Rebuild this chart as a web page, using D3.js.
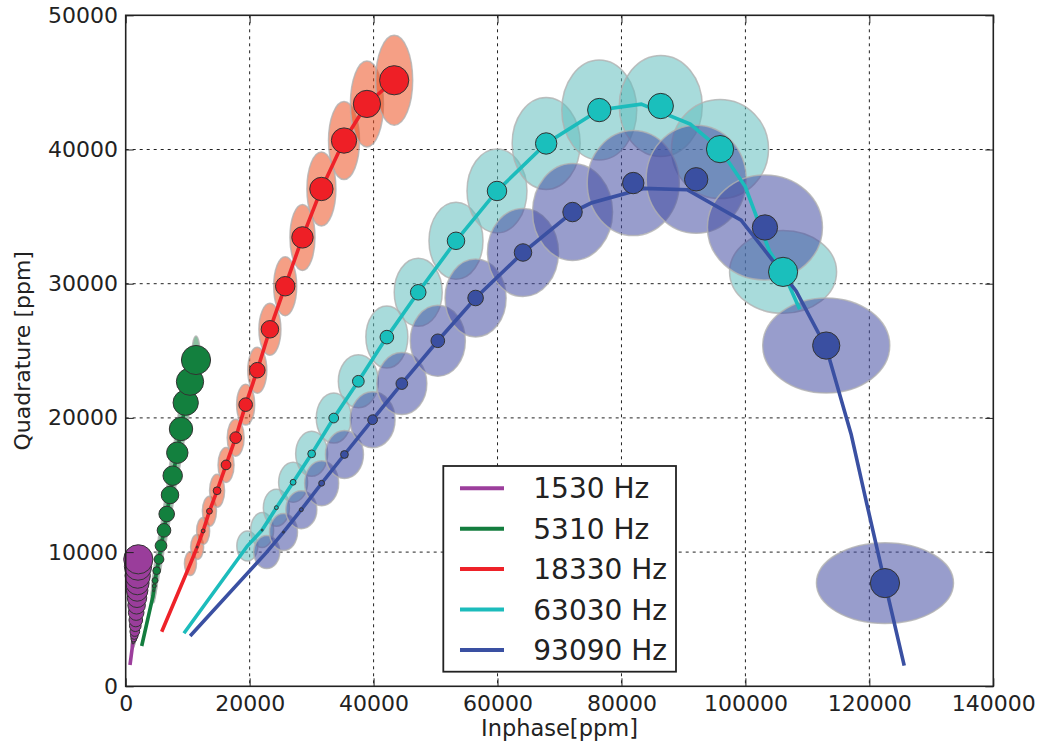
<!DOCTYPE html>
<html>
<head>
<meta charset="utf-8">
<script src="https://cdn.jsdelivr.net/npm/d3@7"></script>
<style>
	body { margin: 0; background: #fff; }
	svg text { font-family: "DejaVu Sans", sans-serif; fill: #222; }
</style>
</head>
<body>
<svg id="chart" width="1041" height="743"></svg>
<script>
// Frequencies (legend labels)
const seriesNames = ["1530 Hz", "5310 Hz", "18330 Hz", "63030 Hz", "93090 Hz"];

// Measured points, index 0 = smallest marker
const purpleX = [1113, 1178, 1243, 1307, 1388, 1468, 1549, 1630, 1694, 1759, 1823, 1856, 1888, 1936, 1985, 2033];
const purpleY = [3077, 3227, 3361, 3532, 3785, 4083, 4516, 4940, 5492, 6036, 6595, 7139, 7690, 8249, 8920, 9463];
const purpleEllW = [500, 520, 560, 600, 640, 700, 740, 790, 840, 900, 950, 1000, 1060, 1120, 1180, 1250];
const purpleEllH = [450, 540, 620, 700, 790, 880, 960, 1050, 1130, 1220, 1300, 1390, 1470, 1560, 1650, 1740];
const purpleCurveX = [694, 1113, 1178, 1243, 1307, 1388, 1468, 1549, 1630, 1694, 1759, 1823, 1856, 1888, 1936, 1985, 2033];
const purpleCurveY = [1590, 3077, 3227, 3361, 3532, 3785, 4083, 4516, 4940, 5492, 6036, 6595, 7139, 7690, 8249, 8920, 9463];

const greenX = [4405, 4518, 4615, 4728, 5002, 5373, 5696, 6180, 6616, 7149, 7584, 8327, 8924, 9682, 10376, 11344];
const greenY = [6729, 7124, 7474, 7884, 8614, 9463, 10477, 11624, 12839, 14255, 15693, 17407, 19173, 21133, 22697, 24314];
const greenEllW = [650, 700, 760, 800, 860, 900, 960, 1000, 1060, 1110, 1160, 1220, 1270, 1330, 1390, 1450];
const greenEllH = [1040, 1250, 1400, 1560, 1730, 1900, 2050, 2220, 2390, 2550, 2720, 2880, 3050, 3220, 3400, 3580];
const greenCurveX = [2582, 4405, 4518, 4615, 4728, 5002, 5373, 5696, 6180, 6616, 7149, 7584, 8327, 8924, 9682, 10376, 11344];
const greenCurveY = [3003, 6729, 7124, 7474, 7884, 8614, 9463, 10477, 11624, 12839, 14255, 15693, 17407, 19173, 21133, 22697, 24314];

const redX = [10450, 11528, 12493, 13512, 14745, 16193, 17748, 19357, 21233, 23271, 25737, 28525, 31582, 35228, 38928, 43324];
const redY = [9150, 10373, 11576, 13047, 14571, 16496, 18528, 20988, 23555, 26603, 29812, 33449, 37059, 40668, 43396, 45160];
const redEllW = [1940, 2100, 2100, 2260, 2420, 2580, 2740, 2910, 3070, 3550, 3710, 4040, 4680, 5000, 5330, 5970];
const redEllH = [1790, 1860, 2010, 2240, 2460, 2610, 2760, 3050, 3430, 3870, 4400, 4920, 5510, 5810, 6410, 6710];
const redCurveX = [5809, 10450, 11528, 12493, 13512, 14745, 16193, 17748, 19357, 21233, 23271, 25737, 28525, 31582, 35228, 38928, 43324];
const redCurveY = [4070, 9150, 10373, 11576, 13047, 14571, 16496, 18528, 20988, 23555, 26603, 29812, 33449, 37059, 40668, 43396, 45160];

const cyanX = [19625, 22013, 24313, 27016, 30007, 33572, 37541, 42141, 47202, 53298, 59912, 67848, 76417, 86340, 95903, 106078];
const cyanY = [10450, 11641, 13311, 15205, 17323, 19989, 22730, 26020, 29359, 33197, 36910, 40449, 42940, 43240, 40030, 30880];
const cyanEllW = [3390, 3710, 4200, 4680, 5160, 5650, 6460, 6780, 7750, 8720, 9680, 10980, 12100, 13400, 15660, 17270];
const cyanEllH = [2240, 2610, 2760, 2980, 3350, 3730, 3950, 4620, 5070, 5740, 6260, 6850, 7450, 7520, 7380, 6180];
const cyanCurveX = [9400, 19625, 22013, 24313, 27016, 30007, 33572, 37541, 42141, 47202, 53298, 59912, 67848, 76417, 83200, 91100, 95903, 99973, 103900, 106078, 108756];
const cyanCurveY = [3950, 10450, 11641, 13311, 15205, 17323, 19989, 22730, 26020, 29359, 33197, 36910, 40449, 42940, 43380, 41900, 40030, 37240, 32400, 30880, 28090];

const blueX = [22760, 25463, 28339, 31617, 35298, 39841, 44557, 50365, 56461, 64110, 72104, 81900, 92055, 103150, 113040, 122519];
const blueY = [10000, 11491, 13161, 15130, 17273, 19865, 22556, 25746, 28935, 32325, 35340, 37500, 37780, 34190, 25390, 7690];
const blueEllW = [4200, 4520, 5000, 5490, 6130, 7260, 8070, 8880, 9850, 11460, 12910, 14850, 16140, 18560, 20500, 22110];
const blueEllH = [2460, 2760, 2830, 3350, 3580, 4170, 4620, 5290, 5810, 6560, 7230, 7820, 8050, 7820, 7080, 6030];
const blueCurveX = [10400, 22760, 25463, 28339, 31617, 35298, 39841, 44557, 50365, 56461, 64110, 72104, 75100, 83600, 90600, 99300, 104470, 108200, 113040, 117057, 119467, 122144, 125625];
const blueCurveY = [3750, 10000, 11491, 13161, 15130, 17273, 19865, 22556, 25746, 28935, 32325, 35340, 36010, 37100, 37000, 34730, 31690, 29440, 25240, 18790, 13840, 8440, 1540];

const xTicks = [0, 20000, 40000, 60000, 80000, 100000, 120000, 140000];
const yTicks = [0, 10000, 20000, 30000, 40000, 50000];

const lineColors = ["#9c3e9c", "#137d3e", "#ee2229", "#1cbcbc", "#3a50a2"];
const markerColors = ["#9a3d9b", "#13803e", "#ee1f26", "#1abfbc", "#3a4fa1"];
const ellipseColors = ["#9a3d9b", "#2a8a50", "#ed5021", "#61bebe", "#444da3"];

const series = [
	[purpleX, purpleY, purpleEllW, purpleEllH, purpleCurveX, purpleCurveY],
	[greenX, greenY, greenEllW, greenEllH, greenCurveX, greenCurveY],
	[redX, redY, redEllW, redEllH, redCurveX, redCurveY],
	[cyanX, cyanY, cyanEllW, cyanEllH, cyanCurveX, cyanCurveY],
	[blueX, blueY, blueEllW, blueEllH, blueCurveX, blueCurveY],
].map(([xs, ys, ws, hs, cx, cy], k) => ({
	name: seriesNames[k],
	points: xs.map((v, i) => ({ x: v, y: ys[i], w: ws[i], h: hs[i], i })),
	curve: cx.map((v, i) => [v, cy[i]]),
	k,
}));

const svg = d3.select("#chart");
const plotLeft = 125.7, plotRight = 993.3, plotTop = 15.3, plotBottom = 686.3;

const x = d3.scaleLinear().domain([0, 140000]).range([plotLeft, plotRight]);
const y = d3.scaleLinear().domain([0, 50000]).range([plotBottom, plotTop]);
// marker radius grows with the point index
const r = d3.scaleLinear().domain([0, 15]).range([0, 14.6]);

// Grid
const grid = svg.append("g").attr("stroke", "#222").attr("stroke-width", 1).attr("stroke-dasharray", "3,4");
grid.selectAll(".gx").data(xTicks.slice(1, -1)).join("line")
	.attr("x1", (d) => x(d)).attr("x2", (d) => x(d))
	.attr("y1", plotTop).attr("y2", plotBottom);
grid.selectAll(".gy").data(yTicks.slice(1, -1)).join("line")
	.attr("y1", (d) => y(d)).attr("y2", (d) => y(d))
	.attr("x1", plotLeft).attr("x2", plotRight);

const plot = svg.append("g");

// Uncertainty ellipses
plot.append("g").selectAll("g").data(series).join("g")
	.attr("fill", (d) => ellipseColors[d.k])
	.selectAll("ellipse").data((d) => d.points).join("ellipse")
	.attr("cx", (d) => x(d.x))
	.attr("cy", (d) => y(d.y))
	.attr("rx", (d) => x(d.w / 2) - x(0))
	.attr("ry", (d) => y(0) - y(d.h / 2))
	.attr("fill-opacity", 0.55)
	.attr("stroke", "#b0b0b0")
	.attr("stroke-opacity", 0.8)
	.attr("stroke-width", 1.5);

// Model curves
const line = d3.line().x((d) => x(d[0])).y((d) => y(d[1]));
plot.append("g").selectAll("path").data(series).join("path")
	.attr("d", (d) => line(d.curve))
	.attr("fill", "none")
	.attr("stroke", (d) => lineColors[d.k])
	.attr("stroke-width", 3.6);

// Markers
plot.append("g").selectAll("g").data(series).join("g")
	.attr("fill", (d) => markerColors[d.k])
	.selectAll("circle").data((d) => d.points.filter((p) => p.i > 0)).join("circle")
	.attr("cx", (d) => x(d.x))
	.attr("cy", (d) => y(d.y))
	.attr("r", (d) => r(d.i))
	.attr("stroke", "#333")
	.attr("stroke-width", 1);

// Axes, ticks inside on all four sides
const fmt = d3.format("d");
svg.append("g").attr("transform", `translate(0,${plotBottom})`)
	.call(d3.axisBottom(x).tickValues(xTicks).tickFormat(fmt).tickSizeInner(-8).tickSizeOuter(0).tickPadding(9))
	.call((g) => g.select(".domain").remove())
	.call((g) => g.selectAll("text").attr("font-size", 22).attr("font-family", "DejaVu Sans"));
svg.append("g").attr("transform", `translate(${plotLeft},0)`)
	.call(d3.axisLeft(y).tickValues(yTicks).tickFormat(fmt).tickSizeInner(-8).tickSizeOuter(0).tickPadding(7.7))
	.call((g) => g.select(".domain").remove())
	.call((g) => g.selectAll("text").attr("font-size", 22).attr("font-family", "DejaVu Sans"));
svg.append("g").attr("transform", `translate(0,${plotTop})`)
	.call(d3.axisTop(x).tickValues(xTicks).tickFormat("").tickSizeInner(-8).tickSizeOuter(0))
	.call((g) => g.select(".domain").remove());
svg.append("g").attr("transform", `translate(${plotRight},0)`)
	.call(d3.axisRight(y).tickValues(yTicks).tickFormat("").tickSizeInner(-8).tickSizeOuter(0))
	.call((g) => g.select(".domain").remove());
svg.selectAll(".tick line").attr("stroke", "#222").attr("stroke-width", 1);

svg.append("rect")
	.attr("x", plotLeft).attr("y", plotTop)
	.attr("width", plotRight - plotLeft).attr("height", plotBottom - plotTop)
	.attr("fill", "none").attr("stroke", "#222").attr("stroke-width", 1.6);

// Axis labels
svg.append("text")
	.attr("x", (plotLeft + plotRight) / 2).attr("y", 736)
	.attr("text-anchor", "middle").attr("font-size", 22.5)
	.text("Inphase[ppm]");
svg.append("text")
	.attr("transform", `translate(30,${(plotTop + plotBottom) / 2}) rotate(-90)`)
	.attr("text-anchor", "middle").attr("font-size", 22)
	.text("Quadrature [ppm]");

// Legend
const legend = svg.append("g").attr("transform", "translate(443.3,466)");
legend.append("rect")
	.attr("width", 232.7).attr("height", 205.7)
	.attr("fill", "#fff").attr("stroke", "#222").attr("stroke-width", 1.8);
const item = legend.selectAll(".item").data(series).join("g")
	.attr("transform", (d) => `translate(0,${22.3 + d.k * 40.4})`);
item.append("line")
	.attr("x1", 16.7).attr("x2", 60.7)
	.attr("stroke", (d) => lineColors[d.k]).attr("stroke-width", 4);
item.append("text")
	.attr("x", 90).attr("dy", "0.36em")
	.attr("font-size", 28)
	.text((d) => d.name);
</script>
</body>
</html>
